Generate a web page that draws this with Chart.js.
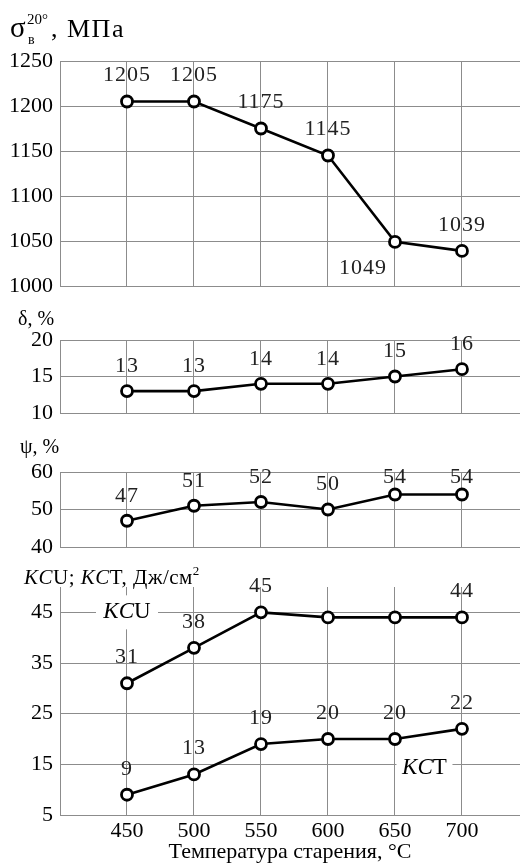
<!DOCTYPE html>
<html>
<head>
<meta charset="utf-8">
<script src="https://cdn.jsdelivr.net/npm/chart.js@4/dist/chart.umd.min.js"></script>
<style>
  html, body { margin:0; padding:0; background:#fff; }
  #wrap { position:relative; width:520px; height:866px; overflow:hidden; background:#fff; font-family:'Liberation Serif','Times New Roman',serif; color:#000; }
  canvas { position:absolute; left:0; top:0; }
  .lbl { position:absolute; line-height:1; white-space:nowrap; }
</style>
</head>
<body>
<div id="wrap">
  <canvas id="c1" width="520" height="866"></canvas>
  <canvas id="c2" width="520" height="866"></canvas>
  <canvas id="c3" width="520" height="866"></canvas>
  <canvas id="c4" width="520" height="866"></canvas>

  <span class="lbl" style="left:10px;top:13px;font-size:29px;">σ</span>
  <span class="lbl" style="left:27px;top:12px;font-size:15px;">20°</span>
  <span class="lbl" style="left:28px;top:33px;font-size:14px;">в</span>
  <span class="lbl" style="left:51px;top:16px;font-size:26px;letter-spacing:1.5px;">, МПа</span>

  <span class="lbl" style="left:18px;top:308px;font-size:20px;">δ, %</span>
  <span class="lbl" style="left:20px;top:436px;font-size:20px;">ψ, %</span>
  <span class="lbl" style="left:24px;top:564px;font-size:21px;letter-spacing:0.5px;"><i>KC</i>U; <i>KC</i>T, Дж/см<sup style="font-size:13px;vertical-align:9px;">2</sup></span>
</div>
<script>
// ---- data ----
const temperatures = [450, 500, 550, 600, 650, 700];
const strength     = [1205, 1205, 1175, 1145, 1049, 1039];
const elongation   = [13, 13, 14, 14, 15, 16];
const reduction    = [47, 51, 52, 50, 54, 54];
const kcuValues    = [31, 38, 45, 44, 44, 44];
const kctValues    = [9, 13, 19, 20, 20, 22];

const tempTicks     = [450, 500, 550, 600, 650, 700];
const strengthTicks = [1000, 1050, 1100, 1150, 1200, 1250];
const elongTicks    = [10, 15, 20];
const reductTicks   = [40, 50, 60];
const impactTicks   = [5, 15, 25, 35, 45];

// ---- styles ----
const SERIF = "'Liberation Serif', 'Times New Roman', serif";
const GRID = '#8c8c8c';

const pts = (ys) => temperatures.map((x, i) => ({ x: x, y: ys[i] }));

const valueLabels = {
  id: 'valueLabels',
  afterDatasetsDraw(chart, args, opts) {
    const ctx = chart.ctx;
    chart.data.datasets.forEach((ds, di) => {
      const meta = chart.getDatasetMeta(di);
      const over = (opts.overrides && opts.overrides[di]) || {};
      meta.data.forEach((pt, i) => {
        const o = Object.assign({ dx: 0, dy: opts.dy, hide: false }, over[i] || {});
        if (o.hide) return;
        ctx.save();
        ctx.font = opts.font;
        ctx.fillStyle = opts.color;
        ctx.textAlign = 'center';
        ctx.textBaseline = 'middle';
        if ('letterSpacing' in ctx) ctx.letterSpacing = opts.letterSpacing || '0px';
        ctx.fillText(String(ds.data[i].y), pt.x + o.dx, pt.y + o.dy);
        ctx.restore();
      });
    });
  }
};

const seriesTags = {
  id: 'seriesTags',
  beforeDatasetsDraw(chart, args, opts) {
    if (!opts.tags) return;
    const ctx = chart.ctx;
    const xs = chart.scales.x, ys = chart.scales.y;
    opts.tags.forEach(tag => {
      const cx = xs.getPixelForValue(tag.at[0]) + (tag.dx || 0);
      const cy = ys.getPixelForValue(tag.at[1]) + (tag.dy || 0);
      ctx.save();
      ctx.fillStyle = '#fff';
      ctx.fillRect(cx - tag.boxW / 2, cy - tag.boxH / 2, tag.boxW, tag.boxH);
      let total = 0;
      const widths = tag.parts.map(p => {
        ctx.font = (p.italic ? 'italic ' : '') + tag.size + 'px ' + SERIF;
        const w = ctx.measureText(p.t).width;
        total += w;
        return w;
      });
      let x = cx - total / 2;
      ctx.fillStyle = '#000';
      ctx.textBaseline = 'middle';
      ctx.textAlign = 'left';
      tag.parts.forEach((p, k) => {
        ctx.font = (p.italic ? 'italic ' : '') + tag.size + 'px ' + SERIF;
        ctx.fillText(p.t, x, cy);
        x += widths[k];
      });
      ctx.restore();
    });
  }
};

function lineSet(data) {
  return {
    data: data,
    borderColor: '#000',
    borderWidth: 2.6,
    pointRadius: 5.5,
    pointBorderWidth: 2.8,
    pointBackgroundColor: '#fff',
    pointBorderColor: '#000',
    tension: 0,
    clip: false
  };
}

function yScale(min, max, ticks) {
  return {
    type: 'linear', min: min, max: max,
    afterBuildTicks: s => { s.ticks = ticks.map(v => ({ value: v })); },
    afterFit: s => { s.width = 60; },
    grid: { color: GRID, lineWidth: 1, drawTicks: false },
    border: { color: GRID, width: 1 },
    ticks: { font: { family: SERIF, size: 22 }, color: '#000', padding: 7, callback: v => String(v) }
  };
}

function xScale(showLabels, height) {
  return {
    type: 'linear', min: 400, max: 743.3,
    afterBuildTicks: s => { s.ticks = tempTicks.map(v => ({ value: v })); },
    afterFit: s => { s.height = height; },
    grid: { color: GRID, lineWidth: 1, drawTicks: false },
    border: { color: GRID, width: 1 },
    ticks: { display: showLabels, font: { family: SERIF, size: 22 }, color: '#000', padding: 3, callback: v => String(v) },
    title: {
      display: showLabels,
      text: 'Температура старения, °C',
      font: { family: SERIF, size: 22 },
      color: '#000',
      padding: { top: 0, bottom: 1 }
    }
  };
}

function panel(id, datasets, yMin, yMax, yTicks, top, bottom, labelOpts, tagOpts, isLast) {
  return new Chart(document.getElementById(id), {
    type: 'line',
    data: { datasets: datasets },
    options: {
      responsive: false,
      animation: false,
      devicePixelRatio: 1,
      layout: { autoPadding: false, padding: { top: top, bottom: isLast ? 0 : 866 - bottom, left: 0, right: 0 } },
      scales: { x: xScale(isLast, isLast ? 866 - bottom : 0), y: yScale(yMin, yMax, yTicks) },
      plugins: {
        legend: { display: false },
        tooltip: { enabled: false },
        valueLabels: labelOpts,
        seriesTags: tagOpts || {}
      }
    },
    plugins: [valueLabels, seriesTags]
  });
}

const LBL = { font: '22px ' + SERIF, color: '#222', letterSpacing: '1px' };

panel('c1', [lineSet(pts(strength))], 1000, 1250, strengthTicks, 61, 286,
  Object.assign({ dy: -26, overrides: { 0: { 4: { dx: -32, dy: 26 } } } }, LBL), null, false);

panel('c2', [lineSet(pts(elongation))], 10, 20, elongTicks, 340, 413,
  Object.assign({ dy: -25 }, LBL), null, false);

panel('c3', [lineSet(pts(reduction))], 40, 60, reductTicks, 472, 547,
  Object.assign({ dy: -25, overrides: { 0: { 4: { dy: -17 }, 5: { dy: -17 } } } }, LBL), null, false);

panel('c4', [lineSet(pts(kcuValues)), lineSet(pts(kctValues))], 5, 50, impactTicks, 587, 815,
  Object.assign({ dy: -26, overrides: { 0: { 3: { hide: true }, 4: { hide: true } } } }, LBL),
  { tags: [
      { parts: [{ t: 'KC', italic: true }, { t: 'U' }], at: [450, 45], dx: 0, dy: 0, size: 23, boxW: 62, boxH: 34 },
      { parts: [{ t: 'KC', italic: true }, { t: 'T' }], at: [672, 15], dx: 0, dy: 4, size: 23, boxW: 56, boxH: 34 }
  ] }, true);
</script>
</body>
</html>
